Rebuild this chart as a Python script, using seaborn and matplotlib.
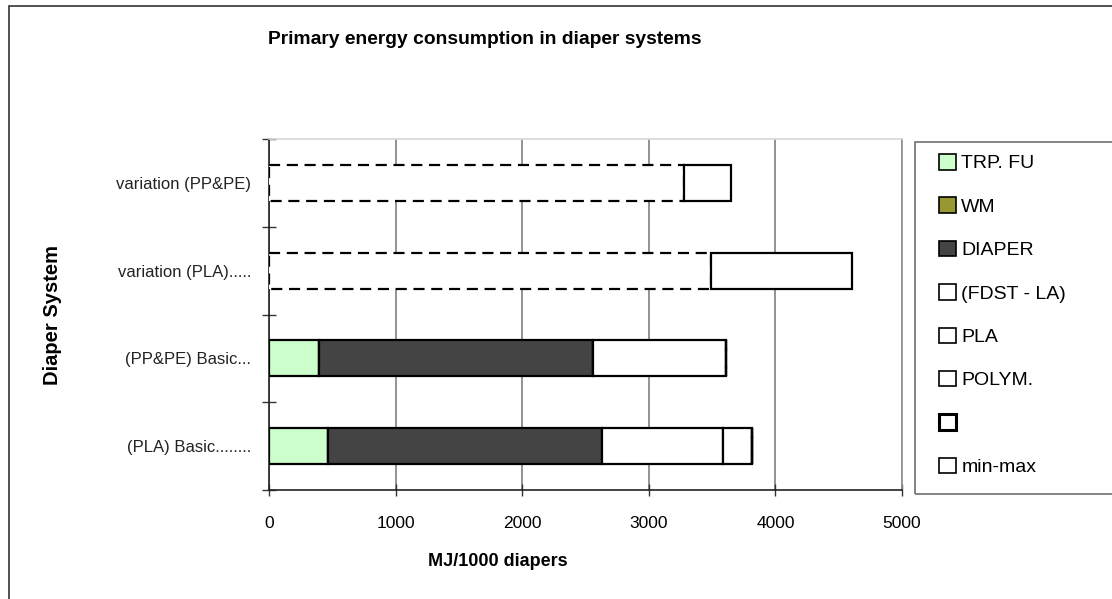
import numpy as np
import pandas as pd
import matplotlib
matplotlib.use("Agg")
import matplotlib.pyplot as plt
import seaborn as sns
from matplotlib.patches import Rectangle, Patch

# ---------------- data ----------------
categories = ["variation (PP&PE)", "variation (PLA).....",
              "(PP&PE) Basic...", "(PLA) Basic........"]
series_names = ["TRP. FU", "WM", "DIAPER", "(FDST - LA)", "PLA", "POLYM.", "", "min-max"]
trp_fu = [0, 0, 397, 464]
wm = [0, 0, 0, 0]
diaper = [0, 0, 2165, 2169]
fdst_la = [0, 0, 0, 956]
pla = [0, 0, 0, 229]
polym = [0, 0, 1048, 0]
blank = [3280, 3489, 0, 0]
min_max = [367, 1118, 0, 0]
x_ticks = [0, 1000, 2000, 3000, 4000, 5000]

series_values = [trp_fu, wm, diaper, fdst_la, pla, polym, blank, min_max]
series_colors = ["#ccffcc", "#999933", "#444444", "white", "white", "white", "white", "white"]
series_ls = ["-", "-", "-", "-", "-", "-", (0, (5, 3)), "-"]

# ---------------- style ----------------
sns.set_theme(style="white")
plt.rcParams["font.family"] = ["Liberation Sans", "DejaVu Sans"]
plt.rcParams["text.color"] = "black"

fig = plt.figure(figsize=(11.12, 5.99), dpi=100)
ax = fig.add_axes([269 / 1112, 1 - 490 / 599, (902 - 269) / 1112, (490 - 139) / 599])

left = np.zeros(len(categories))
for name, vals, col, ls in zip(series_names, series_values, series_colors, series_ls):
    df = pd.DataFrame({"system": categories, "value": vals})
    sns.barplot(data=df, x="value", y="system", order=categories, orient="y",
                color=col, saturation=1, edgecolor="black", linewidth=1.6,
                linestyle=ls, width=0.41, errorbar=None, left=left.copy(),
                ax=ax, zorder=3)
    left = left + np.array(vals, dtype=float)

# axes
ax.set_xlim(0, 5000)
ax.set_ylim(3.5, -0.5)
ax.set_xticks(x_ticks)
ax.set_xticklabels([str(t) for t in x_ticks], fontsize=12.5, color="black")
ax.set_yticks([-0.5, 0.5, 1.5, 2.5, 3.5])
ax.set_yticklabels([])
ax.set_yticks(range(len(categories)), minor=True)
ax.set_yticklabels(categories, minor=True, fontsize=12, color="#222222")
ax.tick_params(axis="y", which="major", left=True, direction="inout", length=10,
               width=1, color="#333333")
ax.tick_params(axis="y", which="minor", left=True, length=0, pad=13)
ax.tick_params(axis="x", which="major", bottom=True, direction="inout", length=8,
               width=1, color="#333333", pad=15)
ax.set_xlabel("")
ax.set_ylabel("")

ax.xaxis.grid(True, color="#808080", linewidth=1.2, zorder=0)
ax.yaxis.grid(False)
ax.set_axisbelow(True)
for side, c in [("left", "#222222"), ("bottom", "#222222"), ("top", "#d8d8d8"), ("right", "#909090")]:
    ax.spines[side].set_visible(True)
    ax.spines[side].set_color(c)
    ax.spines[side].set_linewidth(1.2)

# titles
fig.text(485 / 1112, 1 - 40 / 599, "Primary energy consumption in diaper systems",
         ha="center", va="center", fontsize=13.9, fontweight="bold")
fig.text(498 / 1112, 1 - 562 / 599, "MJ/1000 diapers",
         ha="center", va="center", fontsize=13, fontweight="bold")
fig.text(53 / 1112, 1 - 315 / 599, "Diaper System", rotation=90,
         ha="center", va="center", fontsize=14.5, fontweight="bold")

# legend
handles = []
for name, col in zip(series_names, series_colors):
    lw = 2.2 if name == "" else 1.2
    handles.append(Patch(facecolor=col, edgecolor="black", linewidth=lw, label=name))
leg = fig.legend(handles=handles, loc="upper left",
                 bbox_to_anchor=(939 / 1112, 1 - 154 / 599),
                 frameon=False, fontsize=14, handlelength=0.85, handleheight=0.85,
                 handletextpad=0.3, labelspacing=1.28, borderaxespad=0, borderpad=0)
fig.patches.append(Rectangle((915 / 1112, 1 - 494 / 599), 220 / 1112, (494 - 142) / 599,
                             transform=fig.transFigure, fill=False,
                             edgecolor="#707070", linewidth=1.2))
# outer chart frame
fig.patches.append(Rectangle((9 / 1112, -0.05), 1.2, 0.99 + 0.05,
                             transform=fig.transFigure, fill=False,
                             edgecolor="#333333", linewidth=1.2))

fig.savefig("out.png", dpi=100)
